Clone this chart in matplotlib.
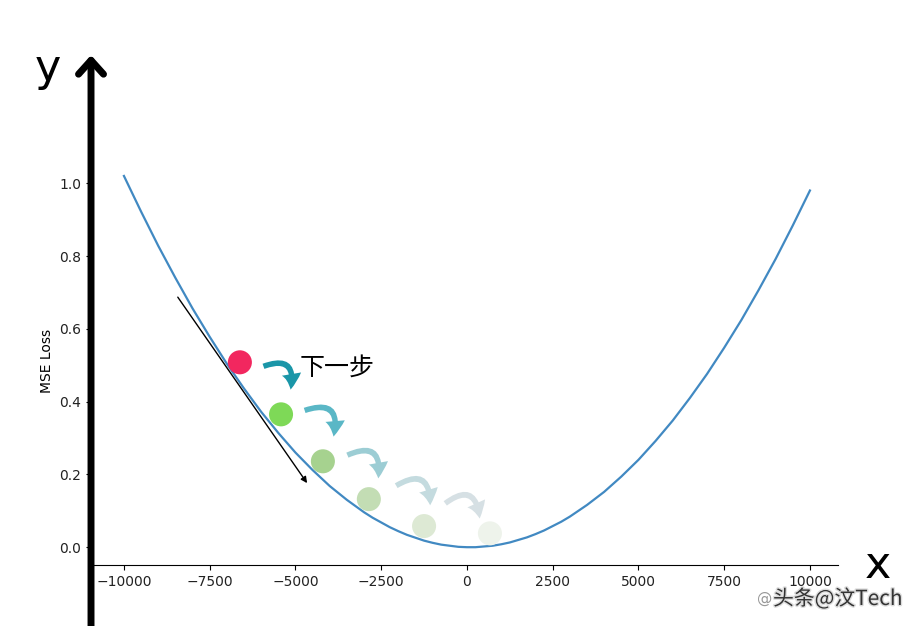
import numpy as np
import matplotlib.pyplot as plt
from matplotlib.patches import FancyArrowPatch
from matplotlib.transforms import IdentityTransform
import matplotlib.patheffects as pe

plt.rcParams['font.family'] = ['DejaVu Sans', 'Noto Sans CJK SC']

# loss curve
curve_x = [-10000, -9500, -9000, -8500, -8000, -7500, -7000, -6500, -6000, -5500,
           -5000, -4500, -4000, -3500, -3000, -2750, -2500, -2250, -2000, -1750,
           -1500, -1250, -1000, -750, -500, -250, 0, 250, 500, 750,
           1000, 1250, 1500, 1750, 2000, 2250, 2500, 2750, 3000, 3500,
           4000, 4500, 5000, 5500, 6000, 6500, 7000, 7500, 8000, 8500,
           9000, 9500, 10000]
curve_y = [1.020, 0.922, 0.828, 0.740, 0.656, 0.578, 0.504, 0.436, 0.372, 0.314,
           0.260, 0.212, 0.168, 0.130, 0.096, 0.081, 0.068, 0.055, 0.044, 0.034,
           0.026, 0.018, 0.012, 0.007, 0.004, 0.001, 0.000, 0.000, 0.002, 0.004,
           0.008, 0.013, 0.020, 0.027, 0.036, 0.046, 0.058, 0.070, 0.084, 0.116,
           0.152, 0.194, 0.240, 0.292, 0.348, 0.410, 0.476, 0.548, 0.624, 0.706,
           0.792, 0.884, 0.980]

# balls (gradient descent steps)
ball_x = [-6620, -5420, -4200, -2860, -1250, 670]
ball_y = [0.508, 0.365, 0.236, 0.132, 0.058, 0.038]
ball_colors = ['#f2275f', '#7ed957', '#a6d28f', '#c3ddb4', '#dde9d4', '#eef3eb']

# curved arrows between balls
arrow_colors = ['#1a96a8', '#5ab7c6', '#9ccdd4', '#c4dbdf', '#d6e0e4']
# pixel offsets (start from ball i, end from ball i+1)
arrow_start_off = [(21, 5), (21, -3), (22, -5), (25, -12), (19, -21)]
arrow_end_off = [(9, -22), (10, -22), (9, -18), (6, -18), (-10, -12)]

# tangent line
tangent_start = (-8430, 0.687)
tangent_end = (-4660, 0.176)

xticks = [-10000, -7500, -5000, -2500, 0, 2500, 5000, 7500, 10000]
yticks = [0.0, 0.2, 0.4, 0.6, 0.8, 1.0]

fig = plt.figure(figsize=(9.24, 6.26), dpi=100)
ax = fig.add_axes([0.0985, 0.0974, 0.8085, 0.6506])

ax.plot(curve_x, curve_y, color='#4189c2', lw=1.6)
ax.set_xlim(-10960, 10820)
ax.set_ylim(-0.049, 1.07)
ax.set_xticks(xticks)
ax.set_yticks(yticks)
ax.tick_params(labelsize=10, labelcolor='#222222')
ax.set_ylabel('MSE Loss', fontsize=10)
for s in ['top', 'right', 'left']:
    ax.spines[s].set_visible(False)

# big y axis arrow
ax.annotate('', xy=(0, 1.352), xytext=(0, -0.25),
            xycoords=('axes fraction', 'data'), textcoords=('axes fraction', 'data'),
            annotation_clip=False,
            arrowprops=dict(arrowstyle='->,head_length=0.5,head_width=0.45', lw=5,
                            color='black', mutation_scale=20, shrinkA=0, shrinkB=0))
fig.text(48 / 924, 1 - 68 / 626, 'y', fontsize=32, ha='center', va='center')
fig.text(878 / 924, 1 - 566 / 626, 'x', fontsize=32, ha='center', va='center')

# tangent
ax.annotate('', xy=tangent_end, xytext=tangent_start,
            arrowprops=dict(arrowstyle='-|>', lw=1, color='black',
                            mutation_scale=9, shrinkA=0, shrinkB=0))

ax.scatter(ball_x, ball_y, s=24 ** 2 * 0.52, c=ball_colors, zorder=5, linewidths=0)

fig.canvas.draw()
pts = ax.transData.transform(np.column_stack([ball_x, ball_y]))
for i in range(len(arrow_colors)):
    sx, sy = pts[i]
    ex, ey = pts[i + 1]
    a = FancyArrowPatch((sx + arrow_start_off[i][0], sy - arrow_start_off[i][1]),
                        (ex + arrow_end_off[i][0], ey - arrow_end_off[i][1]),
                        transform=IdentityTransform(),
                        connectionstyle='arc3,rad=-0.95',
                        arrowstyle='simple,head_length=0.8,head_width=1.0,tail_width=0.28',
                        mutation_scale=14, color=arrow_colors[i], lw=0)
    fig.add_artist(a)

fig.text(300 / 924, 1 - 368 / 626, '下一步', fontsize=18, ha='left', va='center',
         family=['Noto Sans CJK SC', 'DejaVu Sans'])

# watermark
fig.text(757 / 924, 1 - 599 / 626, '@', fontsize=11, color='#999999',
         ha='left', va='center')
fig.text(773 / 924, 1 - 599 / 626, '头条@汶Tech', fontsize=15, color='#333333',
         ha='left', va='center', family=['Noto Sans CJK SC', 'DejaVu Sans'],
         path_effects=[pe.withStroke(linewidth=2, foreground='#dddddd')])

fig.savefig('out.png', dpi=100)
